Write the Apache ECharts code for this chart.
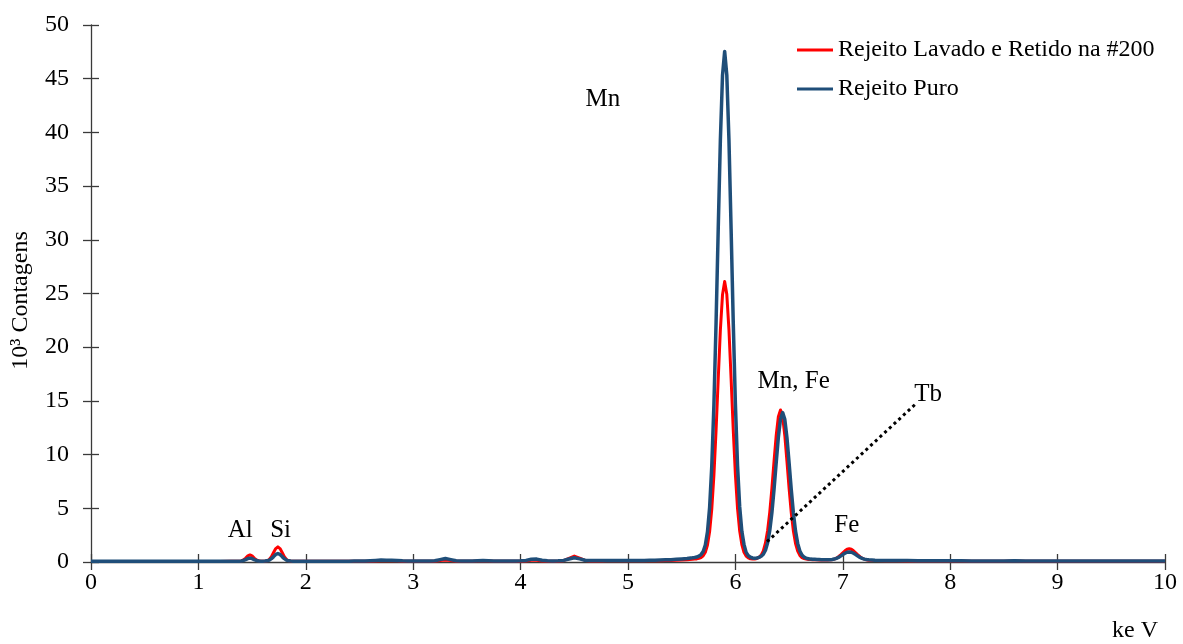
<!DOCTYPE html>
<html>
<head>
<meta charset="utf-8">
<script src="https://cdn.jsdelivr.net/npm/echarts@6/dist/echarts.min.js"></script>
<style>
  html, body { margin: 0; padding: 0; background: #ffffff; }
  #chart { width: 1183px; height: 644px; }
</style>
</head>
<body>
<div id="chart"></div>
<script>
// EDS spectrum: energy (keV) and counts (x10^3) for the two samples
const energyKeV = [
  0, 0.1, 0.2, 0.3, 0.4, 0.5, 0.6, 0.7, 0.8, 0.9, 1.0, 1.1, 1.2, 1.3,
  1.36, 1.38, 1.40, 1.42, 1.44, 1.46, 1.48, 1.50, 1.52, 1.54, 1.56, 1.58, 1.60, 1.62,
  1.64, 1.66, 1.68, 1.70, 1.72, 1.74, 1.76, 1.78, 1.80, 1.82, 1.84, 1.86, 1.88, 1.90,
  1.95, 2.00, 2.05, 2.10, 2.15, 2.20, 2.25, 2.30, 2.35, 2.40,
  2.45, 2.50, 2.55, 2.60, 2.65, 2.70, 2.75, 2.80, 2.85, 2.90,
  2.95, 3.00, 3.05, 3.10, 3.15, 3.20, 3.25, 3.30, 3.35, 3.40,
  3.45, 3.50, 3.55, 3.60, 3.65, 3.70, 3.75, 3.80, 3.85, 3.90,
  3.95, 4.00, 4.05, 4.10, 4.15, 4.20, 4.25, 4.30, 4.35, 4.40,
  4.45, 4.50, 4.55, 4.60, 4.65, 4.70, 4.75, 4.80, 4.85, 4.90,
  4.95, 5.00, 5.05, 5.10, 5.15, 5.20, 5.25, 5.30, 5.35, 5.40,
  5.45, 5.50, 5.55,
  5.60, 5.62, 5.64, 5.66, 5.68, 5.70, 5.72, 5.74, 5.76, 5.78,
  5.80, 5.82, 5.84, 5.86, 5.88, 5.90, 5.92, 5.94, 5.96, 5.98,
  6.00, 6.02, 6.04, 6.06, 6.08, 6.10, 6.12, 6.14, 6.16, 6.18,
  6.20, 6.22, 6.24, 6.26, 6.28, 6.30, 6.32, 6.34, 6.36, 6.38,
  6.40, 6.42, 6.44, 6.46, 6.48, 6.50, 6.52, 6.54, 6.56, 6.58,
  6.60, 6.62, 6.64, 6.66, 6.68, 6.70, 6.72, 6.74, 6.76, 6.78,
  6.80, 6.82, 6.84, 6.86, 6.88, 6.90, 6.92, 6.94, 6.96, 6.98,
  7.00, 7.02, 7.04, 7.06, 7.08, 7.10, 7.12, 7.14, 7.16, 7.18,
  7.20, 7.22, 7.24,
  7.3, 7.4, 7.5, 7.6, 7.7, 7.8, 7.9, 8.0, 8.1, 8.2, 8.3, 8.4, 8.5, 8.6,
  8.7, 8.8, 8.9, 9.0, 9.1, 9.2, 9.3, 9.4, 9.5, 9.6, 9.7, 9.8, 9.9, 10.0
];

// Rejeito Lavado e Retido na #200
const countsWashed = [
  0.05, 0.05, 0.05, 0.05, 0.05, 0.05, 0.05, 0.05, 0.05, 0.05, 0.05, 0.05, 0.05, 0.06,
  0.06, 0.07, 0.10, 0.20, 0.37, 0.57, 0.66, 0.57, 0.37, 0.20, 0.11, 0.07, 0.07, 0.08,
  0.12, 0.24, 0.50, 0.88, 1.25, 1.41, 1.25, 0.88, 0.50, 0.24, 0.12, 0.08, 0.07, 0.06,
  0.06, 0.06, 0.06, 0.06, 0.06, 0.06, 0.06, 0.06, 0.06, 0.06,
  0.06, 0.07, 0.07, 0.08, 0.10, 0.12, 0.11, 0.12, 0.11, 0.08,
  0.07, 0.07, 0.07, 0.07, 0.07, 0.08, 0.13, 0.19, 0.13, 0.08,
  0.07, 0.07, 0.07, 0.09, 0.11, 0.09, 0.07, 0.07, 0.07, 0.07,
  0.07, 0.08, 0.10, 0.16, 0.16, 0.10, 0.08, 0.08, 0.08, 0.12,
  0.33, 0.55, 0.36, 0.14, 0.10, 0.10, 0.10, 0.11, 0.11, 0.11,
  0.11, 0.11, 0.11, 0.11, 0.11, 0.12, 0.12, 0.12, 0.13, 0.14,
  0.16, 0.18, 0.21,
  0.25, 0.27, 0.29, 0.34, 0.42, 0.58, 0.91, 1.58, 2.83, 4.93,
  8.09, 12.26, 17.03, 21.58, 24.89, 26.12, 24.92, 21.61, 17.06, 12.30,
  8.13, 4.97, 2.88, 1.63, 0.90, 0.55, 0.38, 0.30, 0.27, 0.28,
  0.33, 0.43, 0.64, 1.03, 1.78, 2.94, 4.65, 6.88, 9.41, 11.79,
  13.53, 14.15, 13.52, 11.78, 9.38, 6.85, 4.61, 2.89, 1.72, 1.01,
  0.62, 0.41, 0.32, 0.27, 0.24, 0.23, 0.22, 0.21, 0.20, 0.19,
  0.19, 0.18, 0.18, 0.18, 0.20, 0.22, 0.27, 0.36, 0.49, 0.67,
  0.86, 1.04, 1.18, 1.23, 1.18, 1.04, 0.86, 0.67, 0.49, 0.36,
  0.27, 0.21, 0.17,
  0.14, 0.12, 0.11, 0.10, 0.10, 0.09, 0.09, 0.09, 0.09, 0.08, 0.08, 0.08, 0.08, 0.09,
  0.08, 0.08, 0.07, 0.07, 0.07, 0.07, 0.07, 0.07, 0.07, 0.07, 0.07, 0.07, 0.07, 0.07
];

// Rejeito Puro
const countsPure = [
  0.07, 0.07, 0.07, 0.07, 0.07, 0.07, 0.07, 0.07, 0.07, 0.07, 0.07, 0.07, 0.07, 0.08,
  0.08, 0.08, 0.10, 0.14, 0.23, 0.32, 0.36, 0.32, 0.23, 0.14, 0.10, 0.08, 0.08, 0.09,
  0.11, 0.17, 0.31, 0.50, 0.70, 0.78, 0.70, 0.50, 0.31, 0.17, 0.11, 0.09, 0.08, 0.08,
  0.08, 0.08, 0.08, 0.08, 0.08, 0.08, 0.08, 0.08, 0.08, 0.08,
  0.09, 0.09, 0.10, 0.12, 0.15, 0.18, 0.16, 0.16, 0.15, 0.11,
  0.09, 0.09, 0.09, 0.09, 0.10, 0.12, 0.22, 0.32, 0.22, 0.12,
  0.10, 0.09, 0.10, 0.12, 0.14, 0.12, 0.10, 0.10, 0.10, 0.10,
  0.10, 0.11, 0.15, 0.26, 0.27, 0.16, 0.11, 0.10, 0.11, 0.15,
  0.28, 0.40, 0.29, 0.16, 0.13, 0.13, 0.13, 0.13, 0.13, 0.14,
  0.14, 0.14, 0.14, 0.15, 0.15, 0.16, 0.17, 0.18, 0.20, 0.22,
  0.25, 0.29, 0.33,
  0.39, 0.42, 0.46, 0.55, 0.69, 0.98, 1.59, 2.81, 5.09, 8.92,
  14.67, 22.28, 30.97, 39.27, 45.31, 47.54, 45.33, 39.30, 31.00, 22.31,
  14.70, 8.96, 5.13, 2.86, 1.64, 0.90, 0.58, 0.44, 0.37, 0.35,
  0.37, 0.43, 0.53, 0.72, 1.10, 1.80, 2.94, 4.60, 6.79, 9.26,
  11.60, 13.30, 13.91, 13.28, 11.58, 9.23, 6.75, 4.56, 2.87, 1.73,
  1.03, 0.64, 0.45, 0.35, 0.31, 0.27, 0.26, 0.25, 0.24, 0.23,
  0.22, 0.21, 0.21, 0.21, 0.22, 0.24, 0.27, 0.34, 0.43, 0.55,
  0.69, 0.81, 0.91, 0.94, 0.91, 0.81, 0.69, 0.55, 0.43, 0.34,
  0.27, 0.23, 0.20,
  0.17, 0.15, 0.14, 0.13, 0.12, 0.12, 0.11, 0.11, 0.11, 0.10, 0.10, 0.10, 0.10, 0.12,
  0.10, 0.10, 0.10, 0.09, 0.09, 0.09, 0.09, 0.09, 0.09, 0.09, 0.09, 0.09, 0.09, 0.09
];

const seriesNames = ['Rejeito Lavado e Retido na #200', 'Rejeito Puro'];
const seriesColors = ['#ff0000', '#1f4e79'];

// Element labels, anchored in data units (keV, 10^3 counts)
const peakLabels = ['Al', 'Si', 'Mn', 'Mn, Fe', 'Fe', 'Tb'];
const peakLabelKeV = [1.39, 1.765, 4.766, 6.543, 7.037, 7.794];
const peakLabelCounts = [2.98, 2.98, 43.06, 16.85, 3.45, 15.64];

// Dotted leader for the Tb label
const tbLeaderFrom = [6.295, 1.89];
const tbLeaderTo = [7.685, 14.78];

const xTicks = { min: 0, max: 10, interval: 1 };
const yTicks = { min: 0, max: 50, interval: 5 };

const FONT = "'Times New Roman', 'Liberation Serif', serif";
const AXIS_COLOR = '#3a3a3a';

function pairs(xs, ys) {
  return xs.map((x, i) => [x, ys[i]]);
}

const chart = echarts.init(document.getElementById('chart'), null, { renderer: 'canvas' });

const outerAxisCommon = {
  type: 'value',
  axisLine: { show: true, lineStyle: { color: AXIS_COLOR, width: 1.3 } },
  axisTick: { show: true, inside: false, length: 8, lineStyle: { color: AXIS_COLOR, width: 1.3 } },
  splitLine: { show: false },
  axisLabel: { color: '#000', fontFamily: FONT, fontSize: 24 }
};
const innerAxisCommon = {
  type: 'value',
  axisLine: { show: false },
  axisTick: { show: true, inside: true, length: 8, lineStyle: { color: AXIS_COLOR, width: 1.3 } },
  splitLine: { show: false },
  axisLabel: { show: false }
};

chart.setOption({
  animation: false,
  backgroundColor: '#ffffff',
  grid: { left: 91, right: 18, top: 25, bottom: 82, containLabel: false },
  legend: {
    data: seriesNames,
    orient: 'vertical',
    left: 797,
    top: 38,
    padding: 0,
    itemGap: 15,
    icon: 'rect',
    itemWidth: 36,
    itemHeight: 3,
    textStyle: { color: '#000', fontFamily: FONT, fontSize: 24, lineHeight: 24 }
  },
  xAxis: [
    Object.assign({}, outerAxisCommon, xTicks, {
      position: 'bottom',
      axisLabel: Object.assign({}, outerAxisCommon.axisLabel, { margin: 9 })
    }),
    Object.assign({}, innerAxisCommon, xTicks, { position: 'bottom' })
  ],
  yAxis: [
    Object.assign({}, outerAxisCommon, yTicks, {
      position: 'left',
      name: '10³ Contagens',
      nameLocation: 'middle',
      nameRotate: 90,
      nameGap: 58,
      nameTextStyle: { color: '#000', fontFamily: FONT, fontSize: 24, padding: [0, 14, 0, 0] },
      axisLabel: Object.assign({}, outerAxisCommon.axisLabel, { margin: 22 })
    }),
    Object.assign({}, innerAxisCommon, yTicks, { position: 'left' })
  ],
  series: [
    {
      name: seriesNames[0],
      type: 'line',
      data: pairs(energyKeV, countsWashed),
      smooth: false,
      symbol: 'none',
      showSymbol: false,
      color: seriesColors[0],
      lineStyle: { color: seriesColors[0], width: 3, join: 'round' },
      z: 2,
      markLine: {
        silent: true,
        symbol: ['none', 'none'],
        label: { show: false },
        lineStyle: { color: '#000', width: 3, type: [3, 3.4] },
        data: [[{ coord: tbLeaderFrom }, { coord: tbLeaderTo }]]
      }
    },
    {
      name: seriesNames[1],
      type: 'line',
      data: pairs(energyKeV, countsPure),
      smooth: false,
      symbol: 'none',
      showSymbol: false,
      color: seriesColors[1],
      lineStyle: { color: seriesColors[1], width: 3.5, join: 'round' },
      z: 3
    },
    {
      name: 'peak labels',
      type: 'scatter',
      symbolSize: 0,
      silent: true,
      z: 5,
      itemStyle: { opacity: 1, color: '#000' },
      data: peakLabels.map((t, i) => ({ name: t, value: [peakLabelKeV[i], peakLabelCounts[i]] })),
      label: {
        show: true,
        position: 'inside',
        formatter: p => p.name,
        color: '#000',
        opacity: 1,
        fontFamily: FONT,
        fontSize: 25
      }
    }
  ],
  graphic: [
    {
      type: 'text',
      right: 25,
      bottom: 1,
      style: { text: 'ke V', fill: '#000', font: "24px 'Times New Roman', 'Liberation Serif', serif" }
    }
  ]
});
</script>
</body>
</html>
